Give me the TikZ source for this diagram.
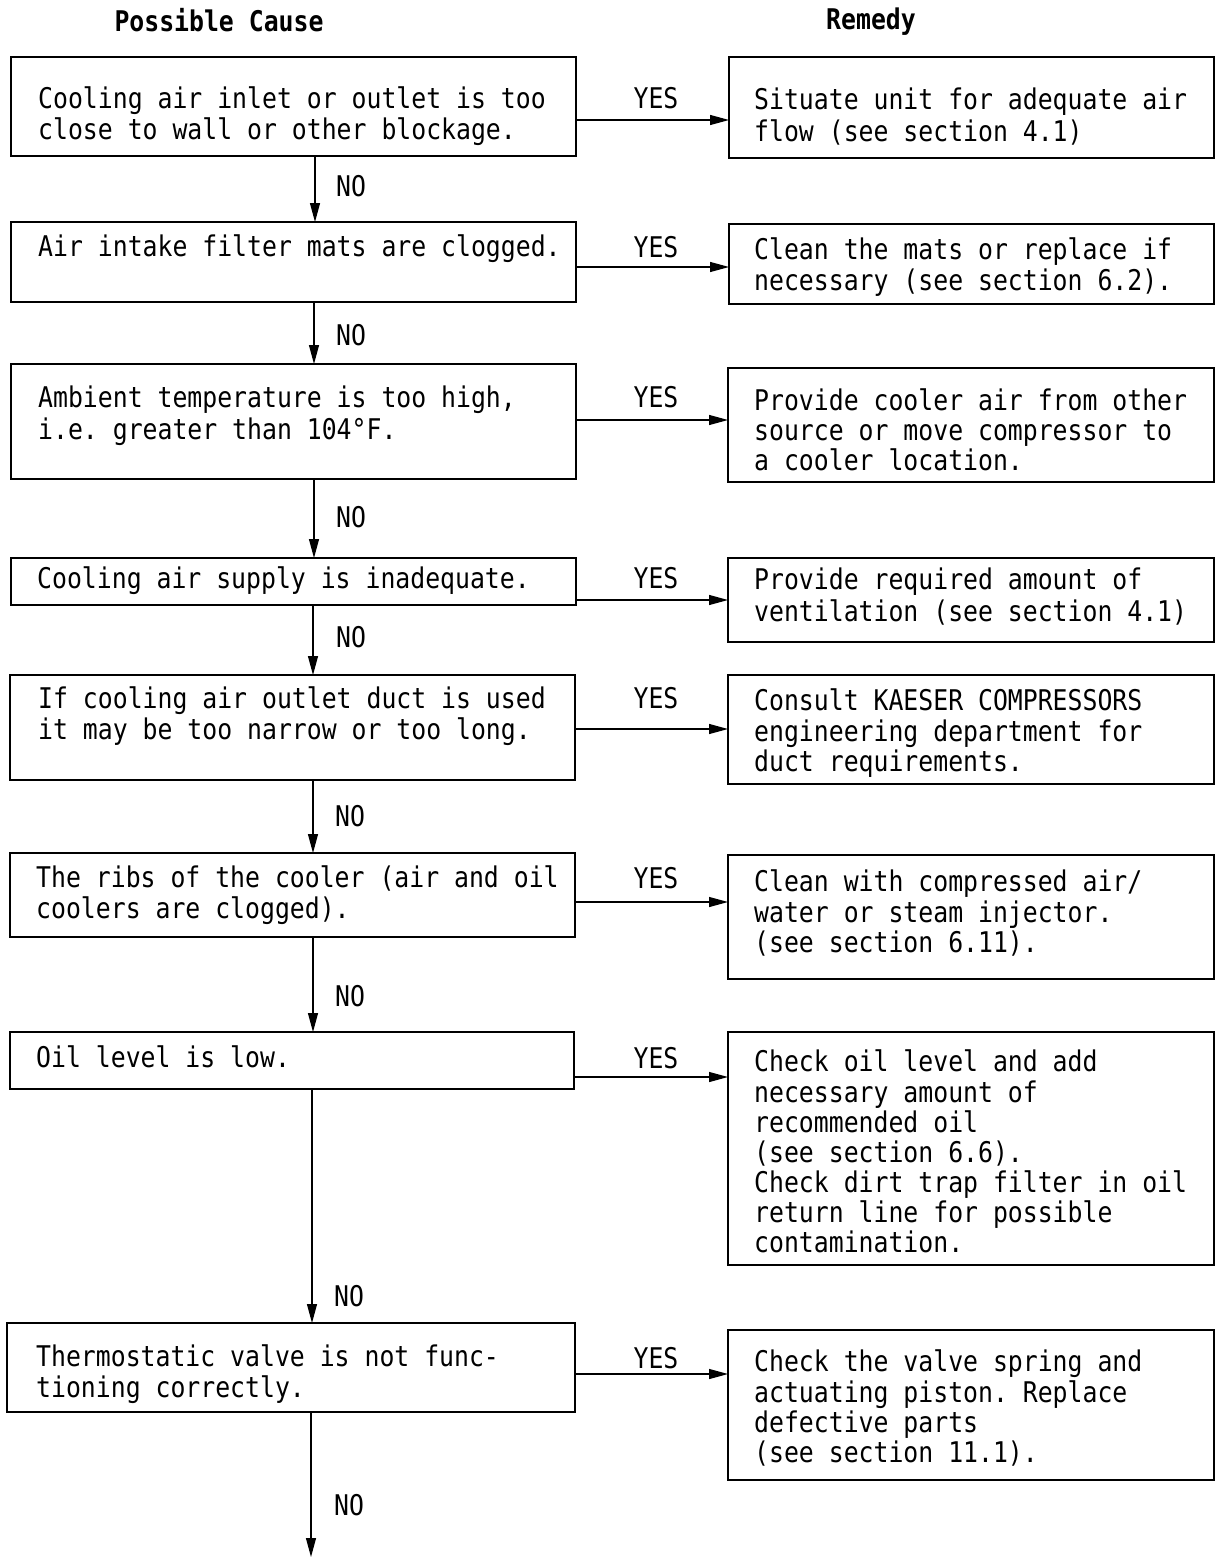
\documentclass[tikz,border=0pt]{standalone}
\usepackage{fontspec}
\setmonofont[FakeStretch=0.87]{DejaVu Sans Mono}
\usetikzlibrary{arrows.meta}
\begin{document}
\begin{tikzpicture}[x=1pt,y=-1pt,
  box/.style={draw, line width=1.6pt, rectangle, inner sep=0, outer sep=0, anchor=north west},
  txt/.style={anchor=north west, inner sep=0, align=left, font=\ttfamily\fontsize{28.5}{30}\selectfont},
  lab/.style={inner sep=0, font=\ttfamily\fontsize{28.5}{30}\selectfont},
  head/.style={inner sep=0, font=\ttfamily\bfseries\fontsize{28.5}{30}\selectfont},
  arr/.style={line width=1.2pt, -{Triangle[length=19pt,width=10pt]}}]
\useasboundingbox (0,0) rectangle (1224,1558);
\fill[white] (0,0) rectangle (1224,1558);
% headers
\node[head] (hc) at (219,20) {Possible Cause};
\node[head] (hr) at (871,22) {Remedy};
% left boxes
\node[box, minimum width=565pt, minimum height=99pt] (L1) at (11,57) {};
\node[box, minimum width=565pt, minimum height=80pt] (L2) at (11,222) {};
\node[box, minimum width=565pt, minimum height=115pt] (L3) at (11,364) {};
\node[box, minimum width=565pt, minimum height=47pt] (L4) at (11,558) {};
\node[box, minimum width=565pt, minimum height=105pt] (L5) at (10,675) {};
\node[box, minimum width=565pt, minimum height=84pt] (L6) at (10,853) {};
\node[box, minimum width=564pt, minimum height=57pt] (L7) at (10,1032) {};
\node[box, minimum width=568pt, minimum height=89pt] (L8) at (7,1323) {};
% right boxes
\node[box, minimum width=485pt, minimum height=101pt] (R1) at (729,57) {};
\node[box, minimum width=485pt, minimum height=80pt] (R2) at (729,224) {};
\node[box, minimum width=486pt, minimum height=114pt] (R3) at (728,368) {};
\node[box, minimum width=486pt, minimum height=84pt] (R4) at (728,558) {};
\node[box, minimum width=486pt, minimum height=109pt] (R5) at (728,675) {};
\node[box, minimum width=486pt, minimum height=124pt] (R6) at (728,855) {};
\node[box, minimum width=486pt, minimum height=233pt] (R7) at (728,1032) {};
\node[box, minimum width=486pt, minimum height=150pt] (R8) at (728,1330) {};
% left texts
\node[txt] (tl1) at (38,86) {\strut Cooling air inlet or outlet is too\\close to wall or other blockage.};
\node[txt] (tl2) at (38,234) {\strut Air intake filter mats are clogged.};
\node[txt] (tl3) at (38,386) {\strut Ambient temperature is too high,\\i.e. greater than 104°F.};
\node[txt] (tl4) at (37,566) {\strut Cooling air supply is inadequate.};
\node[txt] (tl5) at (38,686) {\strut If cooling air outlet duct is used\\it may be too narrow or too long.};
\node[txt] (tl6) at (36,865) {\strut The ribs of the cooler (air and oil\\coolers are clogged).};
\node[txt] (tl7) at (36,1045) {\strut Oil level is low.};
\node[txt] (tl8) at (36,1344) {\strut Thermostatic valve is not func-\\tioning correctly.};
% right texts
\node[txt] (tr1) at (754,88) {\strut Situate unit for adequate air\\flow (see section 4.1)};
\node[txt] (tr2) at (754,237) {\strut Clean the mats or replace if\\necessary (see section 6.2).};
\node[txt] (tr3) at (754,388) {\strut Provide cooler air from other\\source or move compressor to\\a cooler location.};
\node[txt] (tr4) at (754,568) {\strut Provide required amount of\\ventilation (see section 4.1)};
\node[txt] (tr5) at (754,688) {\strut Consult KAESER COMPRESSORS\\engineering department for\\duct requirements.};
\node[txt] (tr6) at (754,869) {\strut Clean with compressed air/\\water or steam injector.\\(see section 6.11).};
\node[txt] (tr7) at (754,1049) {\strut Check oil level and add\\necessary amount of\\recommended oil\\(see section 6.6).\\Check dirt trap filter in oil\\return line for possible\\contamination.};
\node[txt] (tr8) at (754,1349) {\strut Check the valve spring and\\actuating piston. Replace\\defective parts\\(see section 11.1).};
% YES labels
\node[lab] (y1) at (656,98) {YES};
\node[lab] (y2) at (656,247) {YES};
\node[lab] (y3) at (656,397) {YES};
\node[lab] (y4) at (656,578) {YES};
\node[lab] (y5) at (656,698) {YES};
\node[lab] (y6) at (656,878) {YES};
\node[lab] (y7) at (656,1058) {YES};
\node[lab] (y8) at (656,1358) {YES};
% NO labels
\node[lab] (n1) at (351,186) {NO};
\node[lab] (n2) at (351,335) {NO};
\node[lab] (n3) at (351,517) {NO};
\node[lab] (n4) at (351,637) {NO};
\node[lab] (n5) at (350,816) {NO};
\node[lab] (n6) at (350,996) {NO};
\node[lab] (n7) at (349,1296) {NO};
\node[lab] (n8) at (349,1505) {NO};
\coordinate (endp) at (311,1557);
% horizontal arrows
\draw[arr] (L1.east |- 0,120) -- (R1.west |- 0,120);
\draw[arr] (L2.east |- 0,267) -- (R2.west |- 0,267);
\draw[arr] (L3.east |- 0,420) -- (R3.west |- 0,420);
\draw[arr] (L4.east |- 0,600) -- (R4.west |- 0,600);
\draw[arr] (L5.east |- 0,729) -- (R5.west |- 0,729);
\draw[arr] (L6.east |- 0,902) -- (R6.west |- 0,902);
\draw[arr] (L7.east |- 0,1077) -- (R7.west |- 0,1077);
\draw[arr] (L8.east |- 0,1374) -- (R8.west |- 0,1374);
% vertical arrows
\draw[arr] (L1.south -| 315,0) -- (L2.north -| 315,0);
\draw[arr] (L2.south -| 314,0) -- (L3.north -| 314,0);
\draw[arr] (L3.south -| 314,0) -- (L4.north -| 314,0);
\draw[arr] (L4.south -| 313,0) -- (L5.north -| 313,0);
\draw[arr] (L5.south -| 313,0) -- (L6.north -| 313,0);
\draw[arr] (L6.south -| 313,0) -- (L7.north -| 313,0);
\draw[arr] (L7.south -| 312,0) -- (L8.north -| 312,0);
\draw[arr] (L8.south -| 311,0) -- (endp);
\end{tikzpicture}
\end{document}
